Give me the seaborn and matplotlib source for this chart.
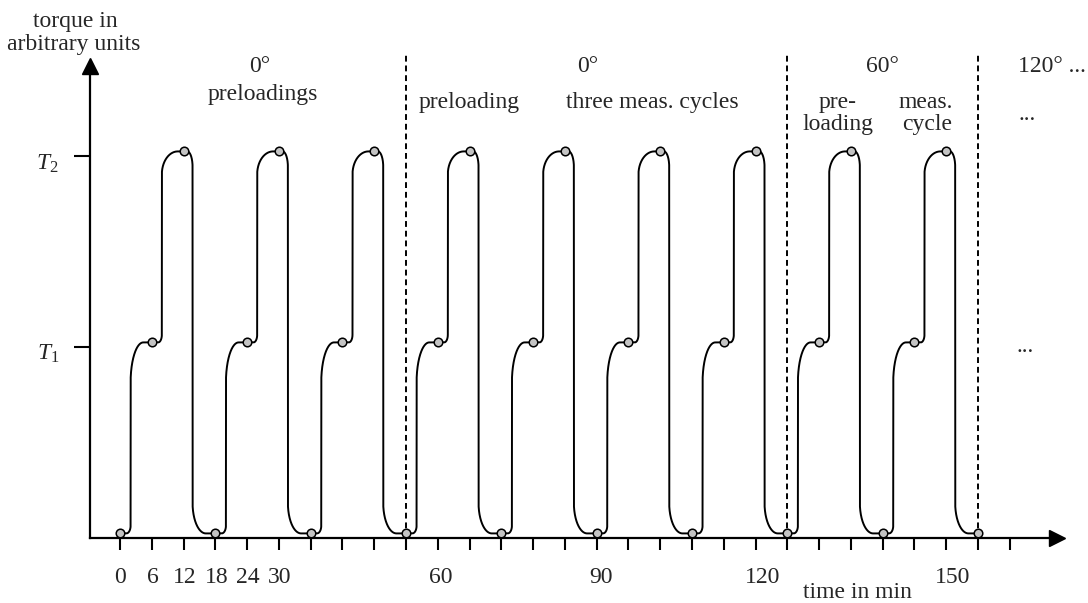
import numpy as np
import pandas as pd
import matplotlib
matplotlib.use("Agg")
import matplotlib.pyplot as plt
import seaborn as sns

cycle_starts = [0, 18, 36, 54, 72, 90, 108, 126, 144]   # min, one load cycle each
end_time = 162
levels = [0.024, 1.024, 2.024]          # rest, T1, T2 (in units of T1)
marker_offsets = [0, 6, 12]             # read-out points inside a cycle (min)
marker_levels = [0, 1, 2]               # index into levels
section_bounds = [54, 126, 162]         # dashed separators (min)
time_ticks = list(range(0, 169, 6))
label_times = [0, 6.2, 12.3, 18.3, 24.1, 30.2, 60.6, 90.8, 121.3, 157.3]
label_texts = ["0", "6", "12", "18", "24", "30", "60", "90", "120", "150"]
torque_ticks = [1, 2]

# transitions inside one cycle: start offset, lower corner (width, frac), upper corner (width, frac)
trans_start = [1.2, 7.2, 12.7]
trans_from = [0, 1, 2]
trans_to = [1, 2, 0]
corner1_w = [0.8, 0.7, 1.0]
corner1_f = [0.04, 0.04, 0.04]
corner2_w = [2.4, 3.0, 2.5]
corner2_f = [0.21, 0.12, 0.08]

# --- layout (pixels of the 1088x603 picture) ---
W_PX, H_PX = 1088, 603
T0_PX, PX_PER_MIN = 120, 5.296
AX_L_PX, AX_R_PX = 89.5, 1057
BASE_PX, TOP_PX, PX_PER_T = 538, 66, 191
FS = 17

sns.set_theme(style="white")
plt.rcParams["font.family"] = ["Liberation Serif", "DejaVu Serif"]
plt.rcParams["mathtext.fontset"] = "custom"
plt.rcParams["mathtext.rm"] = "Liberation Serif"
plt.rcParams["mathtext.it"] = "Liberation Serif:italic"


def step_shape(dt, w0, f0, w1, f1):
    """0 -> 1 with a small rounded start and a quarter-ellipse finish."""
    g = np.zeros_like(dt)
    a = (dt >= 0) & (dt < w0)
    g[a] = f0 * (1 - np.sqrt(1 - (dt[a] / w0) ** 2))
    b = (dt >= w0) & (dt < w0 + w1)
    u = (dt[b] - w0) / w1
    g[b] = 1 - f1 + f1 * np.sqrt(np.clip(1 - (1 - u) ** 2, 0, 1))
    g[dt >= w0 + w1] = 1
    return g


t = np.linspace(0, end_time, 32401)
y = np.full_like(t, levels[0])
for c in cycle_starts:
    for k in range(3):
        dy = levels[trans_to[k]] - levels[trans_from[k]]
        y += dy * step_shape(t - c - trans_start[k], corner1_w[k], corner1_f[k],
                             corner2_w[k], corner2_f[k])
curve = pd.DataFrame({"time": t, "torque": y})

mk_t = [c + o for c in cycle_starts for o in marker_offsets] + [end_time]
mk_y = [levels[i] for c in cycle_starts for i in marker_levels] + [levels[0]]
points = pd.DataFrame({"time": mk_t, "torque": mk_y})

fig = plt.figure(figsize=(W_PX / 100, H_PX / 100), dpi=100)
ax = fig.add_axes([AX_L_PX / W_PX, (H_PX - BASE_PX) / H_PX,
                   (AX_R_PX - AX_L_PX) / W_PX, (BASE_PX - TOP_PX) / H_PX])
ax.set_xlim((AX_L_PX - T0_PX) / PX_PER_MIN, (AX_R_PX - T0_PX) / PX_PER_MIN)
ax.set_ylim(0, (BASE_PX - TOP_PX) / PX_PER_T)

top_dash = (BASE_PX - 52) / PX_PER_T
for b in section_bounds:
    ax.plot([b, b], [0, top_dash], color="black", lw=1.4,
            ls=(0, (3.0, 2.0)), clip_on=False, zorder=1)

sns.lineplot(data=curve, x="time", y="torque", ax=ax, color="black",
             lw=1.4, estimator=None, sort=False, zorder=2)
sns.scatterplot(data=points, x="time", y="torque", ax=ax, s=38,
                color="#c4c4c4", edgecolor="black", linewidth=1.1,
                zorder=3, clip_on=False)

# axes as arrows
for side in ["top", "right"]:
    ax.spines[side].set_visible(False)
for side in ["left", "bottom"]:
    ax.spines[side].set_color("black")
    ax.spines[side].set_linewidth(1.6)
ax.plot(1, 0, ">", color="black", ms=11, transform=ax.transAxes, clip_on=False)
ax.plot(0, 1, "^", color="black", ms=11, transform=ax.transAxes, clip_on=False)

ax.set_xticks(time_ticks)
ax.set_yticks(torque_ticks)
ax.tick_params(axis="x", bottom=True, direction="out", length=8.5, width=1.5,
               color="black", labelbottom=False)
ax.tick_params(axis="y", left=True, direction="out", length=11.5, width=1.5,
               color="black", labelleft=False)
ax.set_xlabel("")
ax.set_ylabel("")

for tm, lab in zip(label_times, label_texts):
    ax.text(tm, (BASE_PX - 583) / (BASE_PX - TOP_PX), lab, fontsize=FS,
            ha="center", va="baseline", transform=ax.get_xaxis_transform())


def ftext(px, py, s, ha="center"):
    fig.text(px / W_PX, 1 - py / H_PX, s, fontsize=FS, ha=ha, va="baseline")


ftext(59, 170, "$T_2$", ha="right")
ftext(59, 360, "$T_1$", ha="right")
ftext(857, 598, "time in min")
ftext(75, 27, "torque in")
ftext(74, 50, "arbitrary units")
ftext(260, 72, "0°")
ftext(263, 100, "preloadings")
ftext(469, 108, "preloading")
ftext(588, 72, "0°")
ftext(652, 108, "three meas. cycles")
ftext(882, 72, "60°")
ftext(838, 108, "pre-")
ftext(838, 130, "loading")
ftext(926, 108, "meas.")
ftext(927, 130, "cycle")
ftext(1018, 72, "120° ...", ha="left")
ftext(1027, 120, "...")
ftext(1025, 352, "...")

fig.savefig("out.png", dpi=100)
